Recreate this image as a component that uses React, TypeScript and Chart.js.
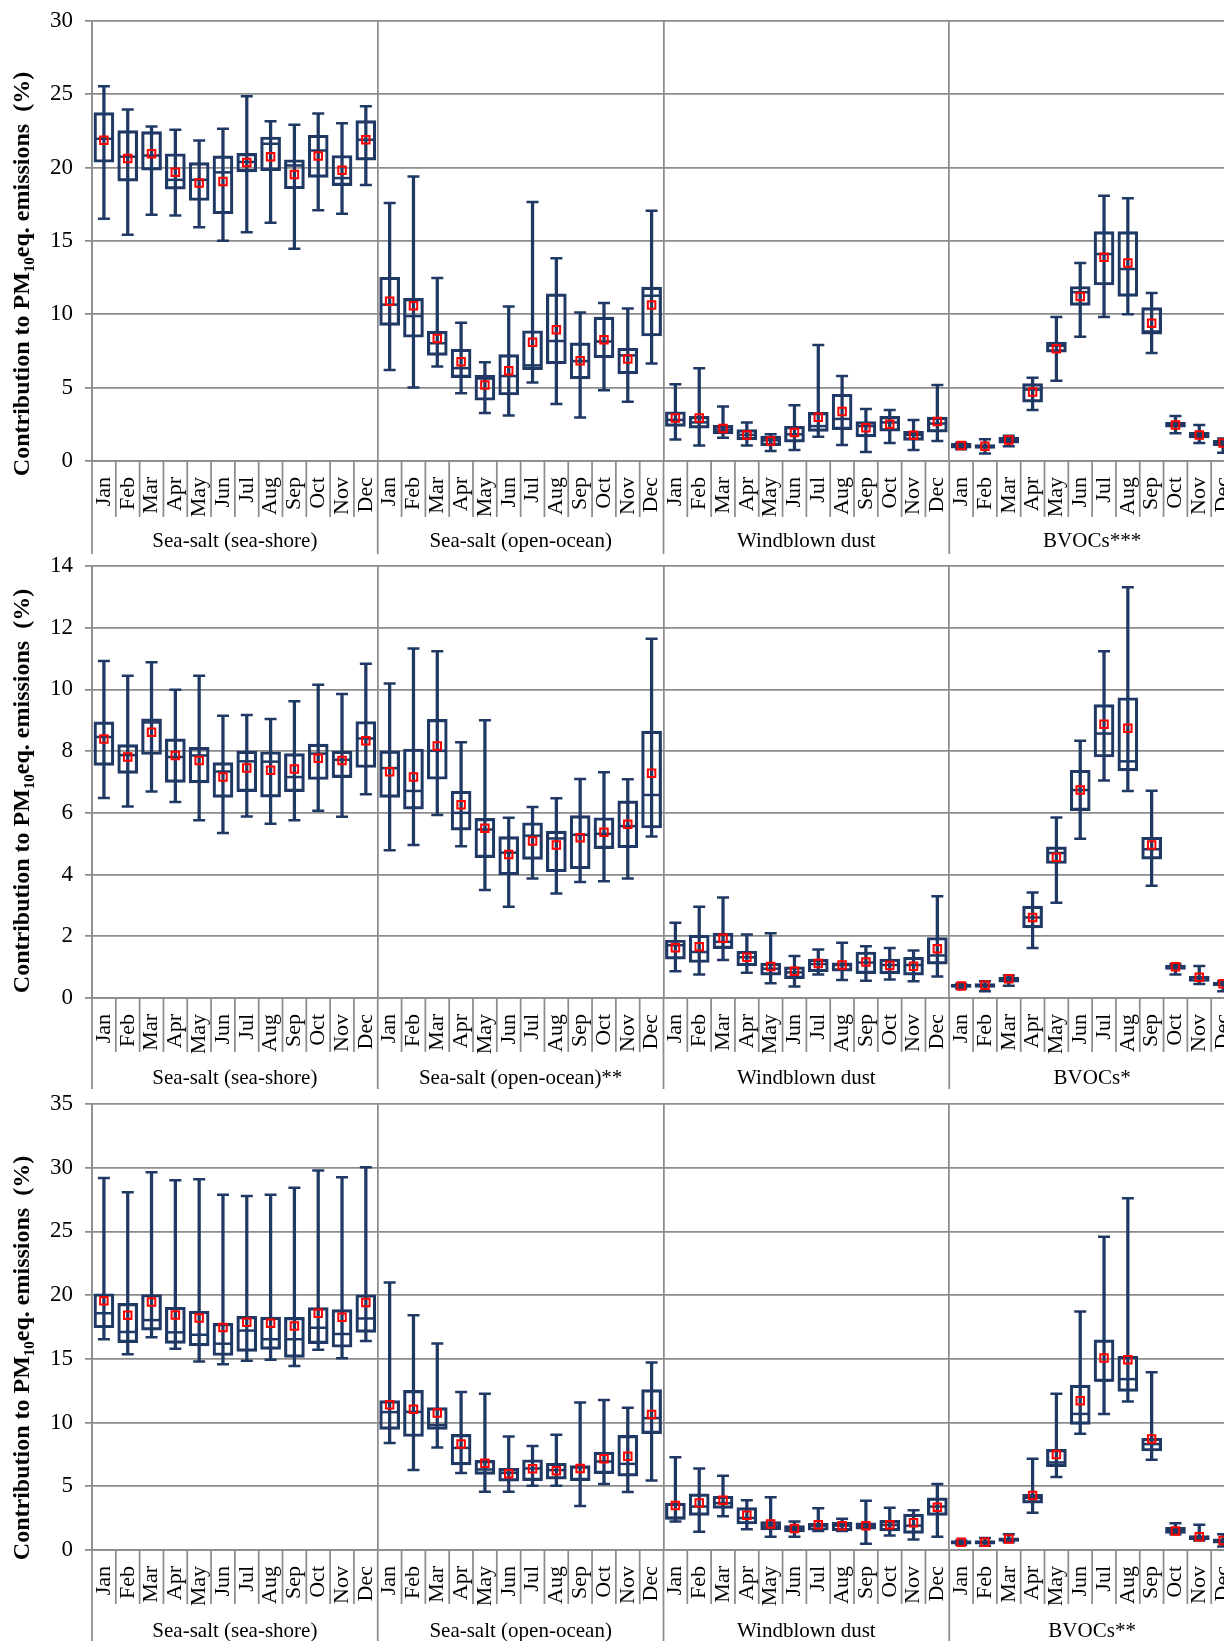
import React, { useEffect, useRef } from "react";
import { Chart, registerables } from "chart.js";

Chart.register(...registerables);

// ---------------- data ----------------
const MONTHS = ["Jan", "Feb", "Mar", "Apr", "May", "Jun", "Jul", "Aug", "Sep", "Oct", "Nov", "Dec"];
const CATEGORIES = [...MONTHS, ...MONTHS, ...MONTHS, ...MONTHS];

const GROUPS_P1 = ["Sea-salt (sea-shore)", "Sea-salt (open-ocean)", "Windblown dust", "BVOCs***"];
const GROUPS_P2 = ["Sea-salt (sea-shore)", "Sea-salt (open-ocean)**", "Windblown dust", "BVOCs*"];
const GROUPS_P3 = ["Sea-salt (sea-shore)", "Sea-salt (open-ocean)", "Windblown dust", "BVOCs**"];

const Y_TICKS_P1 = { max: 30, step: 5 };
const Y_TICKS_P2 = { max: 14, step: 2 };
const Y_TICKS_P3 = { max: 35, step: 5 };

// Panel 1 (groups: sea-shore | open-ocean | windblown dust | BVOCs***)
const P1_MAX = [
  25.55, 23.97, 22.8, 22.58, 21.85, 22.65, 24.87, 23.16, 22.92, 23.7, 23.02, 24.18,
  17.59, 19.39, 12.48, 9.42, 6.74, 10.54, 17.66, 13.82, 10.12, 10.78, 10.39, 17.06,
  5.23, 6.33, 3.72, 2.63, 1.82, 3.8, 7.91, 5.79, 3.55, 3.48, 2.8, 5.18,
  1.25, 1.48, 1.73, 5.67, 9.81, 13.5, 18.08, 17.91, 11.46, 3.07, 2.46, 1.53,
];
const P1_Q3 = [
  23.75, 22.53, 22.46, 20.95, 20.34, 20.8, 20.97, 22.09, 20.54, 22.21, 20.83, 23.21,
  12.53, 11.09, 8.86, 7.62, 5.84, 7.25, 8.88, 11.39, 8.05, 9.81, 7.69, 11.85,
  3.36, 3.04, 2.43, 2.14, 1.7, 2.36, 3.31, 4.55, 2.68, 3.04, 2.02, 2.99,
  1.2, 1.12, 1.61, 5.28, 8.1, 11.9, 15.64, 15.64, 10.46, 2.63, 1.95, 1.41,
];
const P1_MED = [
  21.97, 20.75, 20.83, 19.17, 19.17, 19.68, 20.39, 21.63, 20.15, 21.17, 19.29, 21.9,
  10.66, 9.88, 8.03, 6.33, 5.62, 5.79, 6.52, 8.18, 6.81, 8.15, 7.2, 11.27,
  2.8, 2.63, 2.14, 1.78, 1.41, 1.82, 2.38, 2.87, 2.38, 2.63, 1.78, 2.55,
  1.05, 0.97, 1.41, 4.87, 7.86, 11.51, 14.11, 13.09, 8.83, 2.46, 1.78, 1.24,
];
const P1_Q1 = [
  20.37, 19.08, 19.83, 18.54, 17.76, 16.86, 19.71, 19.8, 18.56, 19.34, 18.78, 20.51,
  9.25, 8.44, 7.2, 5.69, 4.14, 4.5, 6.23, 6.62, 5.6, 7.03, 5.94, 8.52,
  2.36, 2.24, 1.85, 1.44, 1.05, 1.29, 2.02, 2.14, 1.65, 2.04, 1.41, 1.97,
  0.88, 0.85, 1.22, 4.01, 7.42, 10.61, 12.0, 11.22, 8.64, 2.31, 1.58, 1.05,
];
const P1_MIN = [
  16.52, 15.43, 16.79, 16.74, 15.94, 15.01, 15.6, 16.25, 14.48, 17.1, 16.86, 18.81,
  6.2, 5.01, 6.45, 4.62, 3.28, 3.11, 5.35, 3.89, 2.97, 4.82, 4.04, 6.64,
  1.46, 1.05, 1.58, 1.05, 0.68, 0.75, 1.65, 1.09, 0.61, 1.22, 0.75, 1.36,
  0.8, 0.51, 1.0, 3.48, 5.47, 8.47, 9.81, 10.0, 7.37, 1.9, 1.22, 0.56,
];
const P1_MEAN = [
  21.87, 20.63, 20.95, 19.68, 18.95, 19.05, 20.36, 20.75, 19.54, 20.8, 19.83, 21.9,
  10.9, 10.58, 8.35, 6.76, 5.18, 6.16, 8.1, 8.95, 6.84, 8.27, 6.96, 10.63,
  2.94, 2.94, 2.21, 1.78, 1.36, 1.95, 2.99, 3.38, 2.26, 2.51, 1.75, 2.7,
  1.05, 1.0, 1.44, 4.7, 7.66, 11.22, 13.89, 13.5, 9.39, 2.46, 1.78, 1.22,
];

// Panel 2 (groups: sea-shore | open-ocean** | windblown dust | BVOCs*)
const P2_MAX = [
  10.92, 10.44, 10.88, 9.99, 10.44, 9.15, 9.17, 9.04, 9.62, 10.15, 9.85, 10.83,
  10.19, 11.33, 11.24, 8.29, 9.0, 5.84, 6.19, 6.47, 7.1, 7.32, 7.09, 11.64,
  2.44, 2.96, 3.26, 2.06, 2.1, 1.36, 1.57, 1.79, 1.68, 1.62, 1.54, 3.3,
  0.46, 0.54, 0.73, 3.42, 5.85, 8.34, 11.24, 13.31, 6.72, 1.1, 1.04, 0.54,
];
const P2_Q3 = [
  8.95, 8.21, 9.05, 8.4, 8.12, 7.63, 8.0, 7.98, 7.92, 8.23, 8.0, 8.96,
  8.01, 8.07, 9.03, 6.7, 5.82, 5.23, 5.68, 5.41, 5.91, 5.84, 6.39, 8.65,
  1.88, 2.04, 2.1, 1.52, 1.13, 1.01, 1.26, 1.14, 1.49, 1.26, 1.32, 1.96,
  0.45, 0.47, 0.67, 2.98, 4.9, 7.38, 9.51, 9.73, 5.21, 1.07, 0.7, 0.51,
];
const P2_MED = [
  8.46, 7.87, 8.93, 7.81, 7.86, 7.34, 7.67, 7.66, 7.16, 7.92, 7.72, 8.41,
  7.45, 6.71, 8.01, 6.0, 5.46, 4.71, 5.26, 5.17, 5.29, 5.32, 5.57, 6.58,
  1.71, 1.49, 1.82, 1.32, 0.95, 0.83, 1.1, 1.07, 1.15, 1.07, 1.07, 1.38,
  0.39, 0.4, 0.59, 2.61, 4.7, 6.74, 8.57, 7.67, 4.82, 1.01, 0.65, 0.46,
];
const P2_Q1 = [
  7.54, 7.28, 7.89, 6.99, 6.97, 6.5, 6.69, 6.51, 6.69, 7.08, 7.14, 7.47,
  6.5, 6.12, 7.09, 5.44, 4.55, 3.99, 4.49, 4.09, 4.19, 4.84, 4.87, 5.51,
  1.26, 1.15, 1.6, 1.04, 0.74, 0.63, 0.85, 0.87, 0.79, 0.78, 0.74, 1.1,
  0.34, 0.34, 0.51, 2.27, 4.36, 6.07, 7.81, 7.36, 4.5, 0.93, 0.54, 0.4,
];
const P2_MIN = [
  6.48, 6.21, 6.69, 6.35, 5.76, 5.35, 5.88, 5.65, 5.76, 6.07, 5.87, 6.6,
  4.79, 4.96, 5.93, 4.92, 3.5, 2.96, 3.87, 3.39, 3.76, 3.78, 3.87, 5.23,
  0.87, 0.76, 1.23, 0.82, 0.48, 0.37, 0.76, 0.58, 0.56, 0.6, 0.54, 0.7,
  0.31, 0.22, 0.4, 1.62, 3.09, 5.16, 7.05, 6.71, 3.64, 0.76, 0.45, 0.22,
];
const P2_MEAN = [
  8.39, 7.81, 8.61, 7.86, 7.7, 7.16, 7.45, 7.38, 7.42, 7.77, 7.7, 8.34,
  7.33, 7.16, 8.17, 6.26, 5.5, 4.65, 5.09, 4.96, 5.19, 5.37, 5.63, 7.28,
  1.63, 1.66, 1.94, 1.32, 1.02, 0.87, 1.12, 1.07, 1.17, 1.05, 1.03, 1.6,
  0.39, 0.41, 0.62, 2.61, 4.56, 6.74, 8.87, 8.74, 4.96, 1.01, 0.67, 0.46,
];

// Panel 3 (groups: sea-shore | open-ocean | windblown dust | BVOCs**)
const P3_MAX = [
  29.2, 28.07, 29.65, 29.02, 29.1, 27.87, 27.79, 27.87, 28.42, 29.78, 29.26, 30.03,
  21.0, 18.42, 16.21, 12.4, 12.26, 8.91, 8.17, 9.05, 11.58, 11.77, 11.17, 14.71,
  7.28, 6.4, 5.83, 3.9, 4.14, 2.23, 3.27, 2.45, 3.87, 3.32, 3.11, 5.18,
  0.74, 0.95, 1.23, 7.17, 12.26, 18.72, 24.58, 27.6, 13.95, 2.1, 1.99, 1.23,
];
const P3_Q3 = [
  20.11, 19.35, 20.05, 19.05, 18.75, 17.79, 18.34, 18.28, 18.26, 19.02, 18.86, 20.03,
  11.72, 12.53, 11.17, 9.07, 7.03, 6.4, 7.08, 6.81, 6.62, 7.68, 8.99, 12.59,
  3.68, 4.41, 4.22, 3.32, 2.23, 1.91, 2.1, 2.18, 2.13, 2.32, 2.81, 4.09,
  0.74, 0.74, 0.95, 4.36, 7.9, 12.94, 16.49, 15.2, 8.77, 1.77, 1.14, 0.87,
];
const P3_MED = [
  18.58, 17.11, 18.04, 17.08, 16.89, 16.19, 17.22, 16.54, 16.54, 17.44, 16.95, 18.17,
  10.82, 10.84, 9.81, 8.01, 6.32, 6.05, 6.4, 6.27, 6.49, 6.95, 6.76, 10.35,
  2.51, 3.41, 3.68, 2.51, 1.91, 1.63, 1.91, 1.91, 1.91, 1.96, 1.91, 3.41,
  0.6, 0.6, 0.82, 4.09, 6.87, 10.68, 13.3, 13.41, 8.31, 1.5, 0.95, 0.74,
];
const P3_Q1 = [
  17.44, 16.27, 17.25, 16.21, 16.02, 15.26, 15.59, 15.75, 15.12, 16.19, 15.91, 17.08,
  9.46, 8.91, 9.46, 6.68, 5.94, 5.4, 5.45, 5.56, 5.45, 5.99, 5.8, 9.13,
  2.4, 2.72, 3.27, 2.04, 1.58, 1.42, 1.55, 1.5, 1.63, 1.5, 1.31, 2.72,
  0.46, 0.46, 0.68, 3.68, 6.54, 9.86, 13.22, 12.45, 7.77, 1.31, 0.82, 0.54,
];
const P3_MIN = [
  16.54, 15.37, 16.7, 15.8, 14.8, 14.58, 14.85, 14.93, 14.44, 15.72, 15.04, 16.4,
  8.39, 6.27, 8.04, 6.05, 4.58, 4.58, 5.04, 5.04, 3.46, 5.18, 4.55, 5.45,
  2.23, 1.44, 2.64, 1.63, 1.04, 1.04, 1.5, 1.5, 0.49, 1.14, 0.82, 1.04,
  0.41, 0.33, 0.6, 2.92, 5.72, 9.13, 10.68, 11.66, 7.08, 1.23, 0.74, 0.27,
];
const P3_MEAN = [
  19.56, 18.42, 19.46, 18.45, 18.2, 17.47, 17.87, 17.79, 17.57, 18.58, 18.26, 19.43,
  11.39, 11.04, 10.76, 8.31, 6.81, 5.99, 6.38, 6.21, 6.4, 7.17, 7.36, 10.63,
  3.49, 3.68, 3.9, 2.72, 2.04, 1.69, 1.99, 1.91, 1.91, 1.99, 2.13, 3.35,
  0.6, 0.6, 0.87, 4.28, 7.49, 11.72, 15.07, 14.93, 8.72, 1.5, 1.04, 0.74,
];

// ---------------- style / layout ----------------
const SERIF = "'Liberation Serif', 'Times New Roman', serif";
const NAVY = "#1f3864";
const RED = "#ff0000";
const GRID = "#8c8c8c";
const GRID_W = 1.75;
const CANVAS_W = 1250;
const PLOT_LEFT = 92;
const PLOT_RIGHT = 1235;

type PanelCfg = {
  top: number;
  height: number;
  chartTop: number;
  chartBottom: number;
  labelY: number;
  monthSepLen: number;
  groupSepEnd: number;
  titleY: number;
  groups: string[];
  yTicks: { max: number; step: number };
  max: number[];
  q3: number[];
  med: number[];
  q1: number[];
  min: number[];
  mean: number[];
};

const PANELS: PanelCfg[] = [
  {
    top: 0, height: 556, chartTop: 21, chartBottom: 461, labelY: 541, monthSepLen: 56, groupSepEnd: 554, titleY: 274,
    groups: GROUPS_P1, yTicks: Y_TICKS_P1,
    max: P1_MAX, q3: P1_Q3, med: P1_MED, q1: P1_Q1, min: P1_MIN, mean: P1_MEAN,
  },
  {
    top: 545, height: 550, chartTop: 21, chartBottom: 453, labelY: 533, monthSepLen: 54, groupSepEnd: 544, titleY: 246,
    groups: GROUPS_P2, yTicks: Y_TICKS_P2,
    max: P2_MAX, q3: P2_Q3, med: P2_MED, q1: P2_Q1, min: P2_MIN, mean: P2_MEAN,
  },
  {
    top: 1083, height: 558, chartTop: 21, chartBottom: 467, labelY: 548, monthSepLen: 54, groupSepEnd: 558, titleY: 275,
    groups: GROUPS_P3, yTicks: Y_TICKS_P3,
    max: P3_MAX, q3: P3_Q3, med: P3_MED, q1: P3_Q1, min: P3_MIN, mean: P3_MEAN,
  },
];

const decorPlugin = {
  id: "decor",
  afterDraw(chart: any, _args: any, opts: any) {
    const { ctx, chartArea, scales } = chart;
    const x = scales.x;
    const n = CATEGORIES.length;
    const step = x.getPixelForValue(1) - x.getPixelForValue(0);
    const half = step / 2;
    ctx.save();
    ctx.strokeStyle = GRID;
    ctx.lineWidth = GRID_W;
    for (let i = 0; i <= n; i++) {
      const px = x.getPixelForValue(0) - half + i * step;
      ctx.beginPath();
      ctx.moveTo(px, chartArea.bottom);
      ctx.lineTo(px, i % 12 === 0 ? opts.groupSepEnd : chartArea.bottom + opts.monthSepLen);
      ctx.stroke();
    }
    // group labels
    ctx.fillStyle = "#000";
    ctx.font = `21px ${SERIF}`;
    ctx.textAlign = "center";
    ctx.textBaseline = "middle";
    opts.groups.forEach((g: string, k: number) => {
      const cx = (x.getPixelForValue(k * 12) + x.getPixelForValue(k * 12 + 11)) / 2;
      ctx.fillText(g, cx, opts.labelY);
    });
    // y title with subscript
    const big = `bold 24px ${SERIF}`;
    const small = `bold 15px ${SERIF}`;
    const p1 = "Contribution to PM";
    const sub = "10";
    const p2 = "eq. emissions  (%)";
    ctx.font = big;
    const w1 = ctx.measureText(p1).width;
    const w3 = ctx.measureText(p2).width;
    ctx.font = small;
    const w2 = ctx.measureText(sub).width;
    const total = w1 + w2 + w3;
    ctx.translate(21, opts.titleY);
    ctx.rotate(-Math.PI / 2);
    ctx.textAlign = "left";
    ctx.textBaseline = "alphabetic";
    let cx = -total / 2;
    const base = 8;
    ctx.font = big;
    ctx.fillText(p1, cx, base);
    cx += w1;
    ctx.font = small;
    ctx.fillText(sub, cx, base + 5);
    cx += w2;
    ctx.font = big;
    ctx.fillText(p2, cx, base);
    ctx.restore();
  },
};

function buildConfig(p: PanelCfg): any {
  const whiskers = p.max.map((v, i) => [p.min[i], v]);
  const boxes = p.q3.map((v, i) => [p.q1[i], v]);
  const pointSet = (data: number[], style: string, radius: number, color: string, bw: number, order: number) => ({
    type: "line",
    data,
    showLine: false,
    pointStyle: style,
    pointRadius: radius,
    pointHoverRadius: radius,
    pointBorderWidth: bw,
    pointBorderColor: color,
    pointBackgroundColor: style === "rect" ? "rgba(0,0,0,0)" : color,
    order,
  });
  return {
    type: "bar",
    data: {
      labels: CATEGORIES,
      datasets: [
        {
          type: "bar",
          data: whiskers,
          grouped: false,
          barThickness: 2.6,
          backgroundColor: NAVY,
          borderWidth: 0,
          order: 6,
        },
        {
          type: "bar",
          data: boxes,
          grouped: false,
          barThickness: 20,
          backgroundColor: "rgba(0,0,0,0)",
          borderColor: NAVY,
          borderWidth: 2.5,
          borderSkipped: false,
          order: 5,
        },
        pointSet(p.med, "line", 9.5, NAVY, 2.5, 4),
        pointSet(p.max, "line", 6, NAVY, 2.5, 3),
        pointSet(p.min, "line", 6, NAVY, 2.5, 2),
        pointSet(p.mean, "rect", 5.3, RED, 2, 1),
      ],
    },
    options: {
      responsive: false,
      animation: false,
      events: [],
      devicePixelRatio: 1,
      layout: { padding: { top: p.chartTop, right: CANVAS_W - PLOT_RIGHT, left: 0, bottom: 0 } },
      plugins: {
        legend: { display: false },
        tooltip: { enabled: false },
        decor: {
          groups: p.groups,
          labelY: p.labelY,
          monthSepLen: p.monthSepLen,
          groupSepEnd: p.groupSepEnd,
          titleY: p.titleY,
        },
      },
      scales: {
        x: {
          type: "category",
          offset: true,
          grid: {
            offset: true,
            drawTicks: false,
            lineWidth: GRID_W,
            color: (c: any) => (c.index % 12 === 0 ? GRID : "rgba(0,0,0,0)"),
          },
          border: { display: true, color: GRID, width: GRID_W },
          ticks: {
            autoSkip: false,
            minRotation: 90,
            maxRotation: 90,
            padding: 16,
            color: "#000",
            font: { family: SERIF, size: 22 },
          },
          afterFit: (s: any) => {
            s.height = p.height - p.chartBottom;
            s.paddingLeft = 0;
            s.paddingRight = 0;
          },
        },
        y: {
          min: 0,
          max: p.yTicks.max,
          ticks: {
            stepSize: p.yTicks.step,
            padding: 12,
            color: "#000",
            font: { family: SERIF, size: 23 },
          },
          grid: { color: GRID, lineWidth: GRID_W, tickLength: 7 },
          border: { display: true, color: GRID, width: GRID_W },
          afterFit: (s: any) => {
            s.width = PLOT_LEFT;
            s.paddingTop = 0;
            s.paddingBottom = 0;
          },
        },
      },
    },
    plugins: [decorPlugin],
  };
}

function Panel({ cfg }: { cfg: PanelCfg }) {
  const ref = useRef<HTMLCanvasElement>(null);
  useEffect(() => {
    if (!ref.current) return;
    const chart = new Chart(ref.current, buildConfig(cfg));
    return () => chart.destroy();
  }, [cfg]);
  return (
    <canvas
      ref={ref}
      width={CANVAS_W}
      height={cfg.height}
      style={{ position: "absolute", left: 0, top: cfg.top, width: CANVAS_W, height: cfg.height }}
    />
  );
}

export default function App() {
  return (
    <div
      style={{
        position: "absolute",
        left: 0,
        top: 0,
        width: 1224,
        height: 1641,
        overflow: "hidden",
        background: "#fff",
      }}
    >
      {PANELS.map((p, i) => (
        <Panel key={i} cfg={p} />
      ))}
    </div>
  );
}
